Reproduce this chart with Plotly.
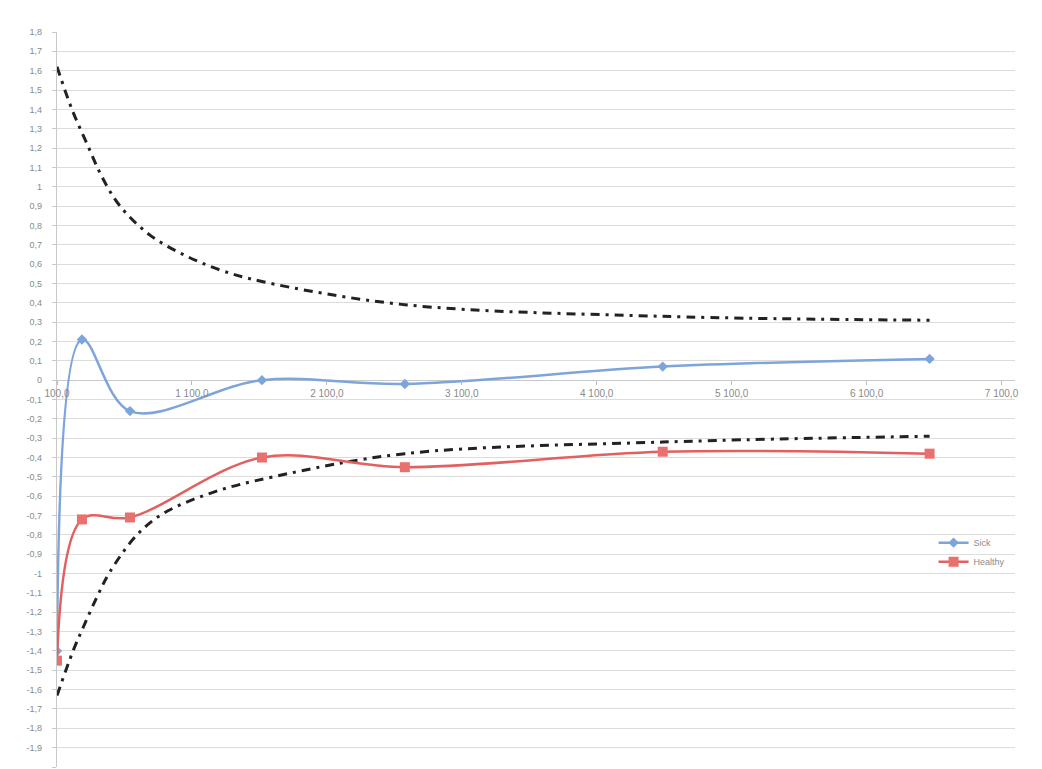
import plotly.graph_objects as go

# Data
x_vals = [100, 285, 641, 1619, 2678, 4589, 6567]
sick = [-1.40, 0.21, -0.16, 0.00, -0.02, 0.07, 0.11]
healthy = [-1.45, -0.72, -0.71, -0.40, -0.45, -0.37, -0.38]
upper_x = [100, 211, 330, 434, 567, 789, 1034, 1308, 1619, 2678, 4589, 6567]
upper = [1.62, 1.40, 1.21, 1.05, 0.90, 0.75, 0.65, 0.57, 0.51, 0.39, 0.33, 0.31]
lower_x = [100, 219, 293, 397, 493, 693, 886, 1256, 1701, 2678, 4589, 6567]
lower = [-1.63, -1.40, -1.28, -1.12, -0.99, -0.80, -0.69, -0.58, -0.50, -0.38, -0.32, -0.29]

x_ticks = [100, 1100, 2100, 3100, 4100, 5100, 6100, 7100]
x_tick_labels = ["100,0", "1 100,0", "2 100,0", "3 100,0", "4 100,0", "5 100,0", "6 100,0", "7 100,0"]
y_ticks = [round(-2 + 0.1 * i, 1) for i in range(39)]


def fmt(v):
    return ("%g" % v).replace(".", ",")


y_tick_labels = [fmt(v) for v in y_ticks]

fig = go.Figure()

dash_style = "9px,6px,3px,6px"
fig.add_trace(go.Scatter(x=upper_x, y=upper, mode="lines", showlegend=False,
                         line=dict(color="#222222", width=3, dash=dash_style, shape="spline")))
fig.add_trace(go.Scatter(x=lower_x, y=lower, mode="lines", showlegend=False,
                         line=dict(color="#222222", width=3, dash=dash_style, shape="spline")))
fig.add_trace(go.Scatter(x=x_vals, y=sick, mode="lines+markers", name="Sick",
                         line=dict(color="#7ea4dc", width=2.5, shape="spline"),
                         marker=dict(symbol="diamond", size=8, color="#7ea4dc")))
fig.add_trace(go.Scatter(x=x_vals, y=healthy, mode="lines+markers", name="Healthy",
                         line=dict(color="#e2605f", width=2.5, shape="spline"),
                         marker=dict(symbol="square", size=10, color="#e8706e")))

# The page body has an 8px margin, so the figure is shrunk and margins shifted
fig.update_layout(
    width=1034, height=761,
    margin=dict(l=49, r=27, t=24, b=2),
    paper_bgcolor="white", plot_bgcolor="white",
    font=dict(family="Liberation Sans, Arial, sans-serif", size=10, color="#8a8a8a"),
    legend=dict(x=0.915, y=0.325, xanchor="left", yanchor="top",
                bgcolor="rgba(0,0,0,0)", font=dict(size=9, color="#8a8a8a"),
                itemwidth=30, tracegroupgap=0),
    xaxis=dict(range=[100, 7200], tickvals=x_ticks, ticktext=x_tick_labels,
               showgrid=False, zeroline=False, showline=False,
               anchor="free", position=2 / 3.8,
               ticks="outside", ticklen=4, tickcolor="#bbbbbb",
               tickfont=dict(size=10, color="#8a8a8a")),
    yaxis=dict(range=[-2, 1.8], tickvals=y_ticks, ticktext=y_tick_labels,
               showgrid=True, gridcolor="#dcdcdc", gridwidth=1.2,
               zeroline=True, zerolinecolor="#c8c8c8", zerolinewidth=1.2,
               showline=True, linecolor="#c8c8c8", linewidth=1.2,
               ticks="outside", ticklen=4, tickcolor="#c8c8c8",
               ticklabelstandoff=8,
               tickfont=dict(size=9, color="#8a8a8a")),
)

fig.write_html("out.html")
